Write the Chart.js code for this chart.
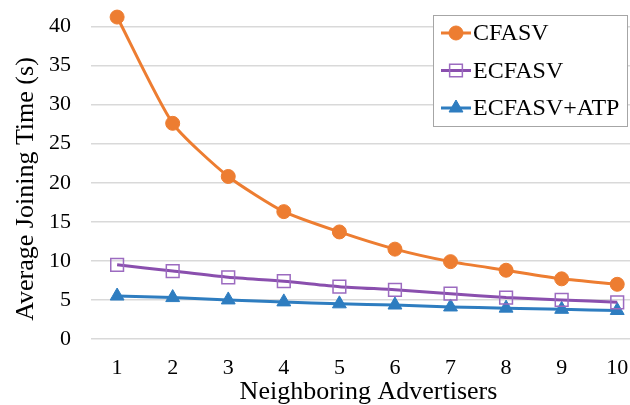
<!DOCTYPE html>
<html>
<head>
<meta charset="utf-8">
<script src="https://cdn.jsdelivr.net/npm/chart.js@4.4.1/dist/chart.umd.min.js"></script>
<style>
  html, body { margin: 0; padding: 0; background: #fff; }
  #wrap { width: 630px; height: 405px; overflow: hidden; position: relative; }
</style>
</head>
<body>
<div id="wrap"><canvas id="chart" width="630" height="414"></canvas></div>
<script>
// Datos
const advertisers = [1, 2, 3, 4, 5, 6, 7, 8, 9, 10];
const cfasv = [41.2, 27.6, 20.8, 16.3, 13.7, 11.5, 9.9, 8.8, 7.7, 7.0];
const ecfasv = [9.5, 8.7, 7.9, 7.4, 6.7, 6.3, 5.8, 5.3, 5.0, 4.7];
const ecfasvAtp = [5.5, 5.3, 5.0, 4.75, 4.5, 4.35, 4.1, 3.95, 3.8, 3.65];
const yTicks = [0, 5, 10, 15, 20, 25, 30, 35, 40];
const xTitle = 'Neighboring Advertisers';
const yTitle = 'Average Joining Time (s)';

const serif = "'Liberation Serif', 'Times New Roman', serif";
const ctx = document.getElementById('chart').getContext('2d');

const toPoints = values => values.map((v, i) => ({ x: advertisers[i], y: v }));

// Títulos de ejes y leyenda dibujados a mano
const decorations = {
    id: 'decorations',
    afterDraw(chart) {
        const c = chart.ctx;
        c.save();
        c.fillStyle = '#000';
        c.font = '26px ' + serif;
        c.textAlign = 'center';
        c.textBaseline = 'alphabetic';
        c.fillText(xTitle, 368.5, 399);

        c.save();
        c.translate(26, 189);
        c.rotate(-Math.PI / 2);
        c.textBaseline = 'middle';
        c.fillText(yTitle, 0, 0);
        c.restore();

        c.textAlign = 'left';
        c.fillStyle = '#ffffff';
        c.fillRect(433.5, 15.5, 194, 111);
        c.strokeStyle = '#a6a6a6';
        c.lineWidth = 1;
        c.strokeRect(433.5, 15.5, 194, 111);
        chart.data.datasets.forEach((ds, i) => {
            const y = 33 + i * 37.5;
            c.strokeStyle = ds.borderColor;
            c.lineWidth = ds.borderWidth;
            c.beginPath();
            c.moveTo(441, y);
            c.lineTo(471, y);
            c.stroke();
            c.fillStyle = ds.pointBackgroundColor;
            c.strokeStyle = ds.pointBorderColor;
            c.lineWidth = ds.pointBorderWidth;
            Chart.helpers.drawPoint(c, {
                pointStyle: ds.pointStyle,
                radius: ds.pointRadius,
                rotation: 0,
                borderWidth: ds.pointBorderWidth
            }, 456, y);
            c.fillStyle = '#000';
            c.font = '24px ' + serif;
            c.textBaseline = 'middle';
            c.fillText(ds.label, 473, y + 1);
        });
        c.restore();
    }
};

const noPadding = axis => {
    axis.paddingTop = 0;
    axis.paddingBottom = 0;
    axis.paddingLeft = 0;
    axis.paddingRight = 0;
};

new Chart(ctx, {
    type: 'line',
    data: {
        datasets: [{
            label: 'CFASV',
            data: toPoints(cfasv),
            borderColor: '#ED7D31',
            backgroundColor: '#ED7D31',
            borderWidth: 3,
            pointStyle: 'circle',
            pointRadius: 7,
            pointBackgroundColor: '#ED7D31',
            pointBorderColor: '#ED7D31',
            pointBorderWidth: 1,
            tension: 0.2
        }, {
            label: 'ECFASV',
            data: toPoints(ecfasv),
            borderColor: '#8A4FAE',
            backgroundColor: '#8A4FAE',
            borderWidth: 3,
            pointStyle: 'rect',
            pointRadius: 9,
            pointBackgroundColor: 'rgba(255,255,255,0)',
            pointBorderColor: '#9C6BC0',
            pointBorderWidth: 1.5,
            tension: 0.2
        }, {
            label: 'ECFASV+ATP',
            data: toPoints(ecfasvAtp),
            borderColor: '#2E7DC0',
            backgroundColor: '#2E7DC0',
            borderWidth: 3,
            pointStyle: 'triangle',
            pointRadius: 8,
            pointBackgroundColor: '#2E7DC0',
            pointBorderColor: '#2E7DC0',
            pointBorderWidth: 1,
            tension: 0.2
        }]
    },
    options: {
        responsive: false,
        animation: false,
        devicePixelRatio: 1,
        clip: false,
        layout: { autoPadding: false, padding: { top: 3, right: 0, left: 0, bottom: 0 } },
        plugins: {
            legend: { display: false },
            tooltip: { enabled: false }
        },
        scales: {
            x: {
                type: 'linear',
                min: 0.53,
                max: 10.23,
                afterBuildTicks: axis => { axis.ticks = advertisers.map(v => ({ value: v })); },
                afterFit: axis => { noPadding(axis); axis.height = 75; },
                grid: { display: false, drawTicks: false },
                border: { display: false },
                ticks: {
                    color: '#000',
                    font: { family: serif, size: 22 },
                    padding: 16,
                    maxRotation: 0,
                    autoSkip: false
                }
            },
            y: {
                min: 0,
                max: 43,
                afterBuildTicks: axis => { axis.ticks = yTicks.map(v => ({ value: v })); },
                afterFit: axis => { noPadding(axis); axis.width = 91; },
                grid: { color: '#D9D9D9', lineWidth: 1.5, drawTicks: false },
                border: { display: false },
                ticks: {
                    color: '#000',
                    font: { family: serif, size: 22 },
                    padding: 20
                }
            }
        }
    },
    plugins: [decorations]
});
</script>
</body>
</html>
